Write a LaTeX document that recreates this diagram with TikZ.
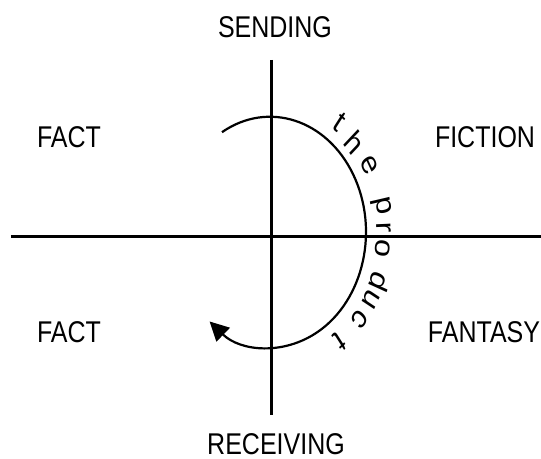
\documentclass[tikz,border=0pt]{standalone}
\usepackage{fontspec}
\setmainfont{Liberation Sans}
\usetikzlibrary{arrows.meta,calc}

\begin{document}
\begin{tikzpicture}[x=1pt,y=1pt,yscale=1.2,transform shape,quad/.style={inner sep=0pt,font=\fontsize{25}{30}\selectfont},glyph/.style={inner sep=0pt,font=\fontsize{27}{30}\selectfont},axis/.style={line width=3pt},loop/.style={line width=2.2pt,-{Triangle[length=19pt,width=19pt]}}]
\useasboundingbox (-272,-185) rectangle (269,197.5);
% axes
\coordinate (w) at (-261,0); \coordinate (e) at (269,0); \coordinate (n) at (0,147.5); \coordinate (s) at (0,-148.3);
\draw[axis](w)--(e); \draw[axis](n)--(s);
% quadrant labels
\node[quad](send) at (3,175){SENDING}; \node[quad](recv) at (4,-173){RECEIVING};
\node[quad](fact1) at (-203,83){FACT}; \node[quad](fict) at (213,83){FICTION};
\node[quad](fact2) at (-203,-79){FACT}; \node[quad](fant) at (212,-79){FANTASY};
% the loop and its text
\coordinate (cc) at (-2,4.2);
\draw[loop] ($(cc)+(120:96)$) arc[start angle=120,end angle=-129,radius=96];
\foreach \ch/\a/\r [count=\i] in {t/52.6/115,h/41.5/113,e/29.3/114,p/11/113,r/2/114,o/-6.9/114,d/-20.8/118,u/-29/116,c/-39/115,t/-52.6/115}
  \node[glyph,rotate=\a-90](g\i) at ($(cc)+(\a:\r)$){\ch};
\end{tikzpicture}
\end{document}
